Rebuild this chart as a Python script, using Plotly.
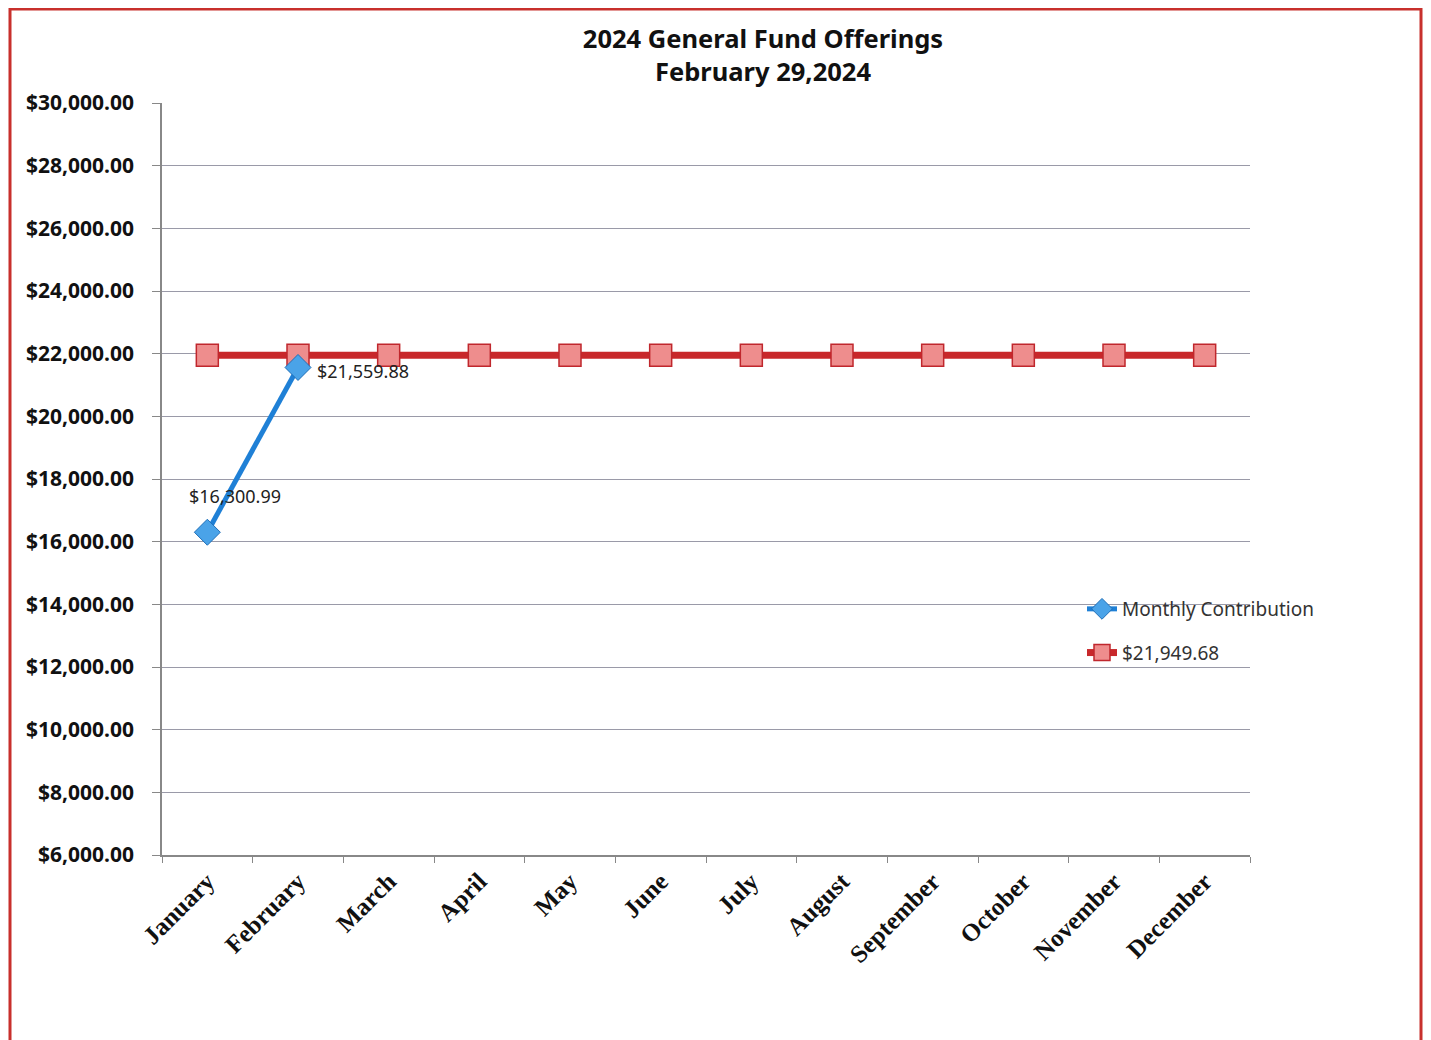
import plotly.graph_objects as go

months = ["January", "February", "March", "April", "May", "June", "July",
          "August", "September", "October", "November", "December"]
contrib_months = ["January", "February"]
contrib_values = [16300.99, 21559.88]
contrib_labels = ["$16,300.99", "$21,559.88"]
avg_value = 21949.68
avg_values = [avg_value] * 12
avg_name = "$21,949.68"

fig = go.Figure()

fig.add_trace(go.Scatter(
    x=months, y=avg_values, mode="lines+markers", name=avg_name,
    legendgroup="avg", legendrank=2,
    line=dict(color="#c8282b", width=7),
    marker=dict(symbol="square", size=22, color="#ee8d8d",
                line=dict(color="#c0272d", width=1.5)),
))

fig.add_trace(go.Scatter(
    x=contrib_months, y=contrib_values, mode="lines+markers", name="Monthly Contribution",
    legendgroup="contrib", legendrank=1,
    line=dict(color="#1f80d6", width=5),
    marker=dict(symbol="diamond", size=20, color="#4aa3e8",
                line=dict(color="#1f6fb8", width=1)),
))

# data labels
fig.add_annotation(x=contrib_months[0], y=contrib_values[0], text=contrib_labels[0],
                   showarrow=False, xshift=28, yshift=36,
                   font=dict(family="Noto Sans", size=18, color="#222"))
fig.add_annotation(x=contrib_months[1], y=contrib_values[1], text=contrib_labels[1],
                   showarrow=False, xanchor="left", xshift=17, yshift=-4,
                   font=dict(family="Noto Sans", size=18, color="#222"))

# page-pixel geometry (the page body adds an 8px offset)
OFF = 8
FW, FH = 1431 - OFF, 1040 - OFF
L, R, T, B = 162, 1250, 103, 855
W, H = R - L, B - T
def px(x): return (x - L) / W
def py(y): return (B - y) / H

# red border frame of the scanned page
fig.add_shape(type="rect", xref="paper", yref="paper",
              x0=px(10), x1=px(1421), y0=py(1070), y1=py(9),
              line=dict(color="#c8302c", width=3), layer="below")

fig.update_layout(
    width=FW, height=FH,
    margin=dict(l=L - OFF, r=1431 - R, t=T - OFF, b=1040 - B),
    paper_bgcolor="white", plot_bgcolor="white",
    title=dict(text="<b>2024 General Fund Offerings<br>February 29,2024</b>",
               x=(763 - OFF) / FW, xref="container", xanchor="center",
               y=1 - 40 / FH, yanchor="top",
               font=dict(family="Noto Sans", size=25.5, color="#111")),
    legend=dict(x=px(1082), y=py(590), xanchor="left", yanchor="top",
                bgcolor="rgba(0,0,0,0)", traceorder="grouped",
                font=dict(family="Noto Sans", size=19, color="#333"),
                tracegroupgap=16),
    showlegend=True,
)

fig.update_xaxes(
    type="category", categoryorder="array", categoryarray=months,
    tickangle=-45, tickson="boundaries", ticks="outside", ticklen=6,
    tickcolor="#888", showline=True, linecolor="#888", linewidth=1.5,
    showgrid=False, range=[-0.5, 11.5],
    tickfont=dict(family="Liberation Serif", size=25, color="#111", weight="bold"),
)
fig.update_yaxes(
    range=[6000, 30000], dtick=2000, tickprefix="$", tickformat=",.2f",
    ticks="outside", ticklen=8, tickcolor="#888", ticklabelstandoff=14,
    showline=True, linecolor="#888", linewidth=1.5,
    gridcolor="#9a9aa8", gridwidth=1.2, zeroline=False,
    tickfont=dict(family="Noto Sans", size=21, color="#111", weight="bold"),
)

fig.write_html("out.html")
